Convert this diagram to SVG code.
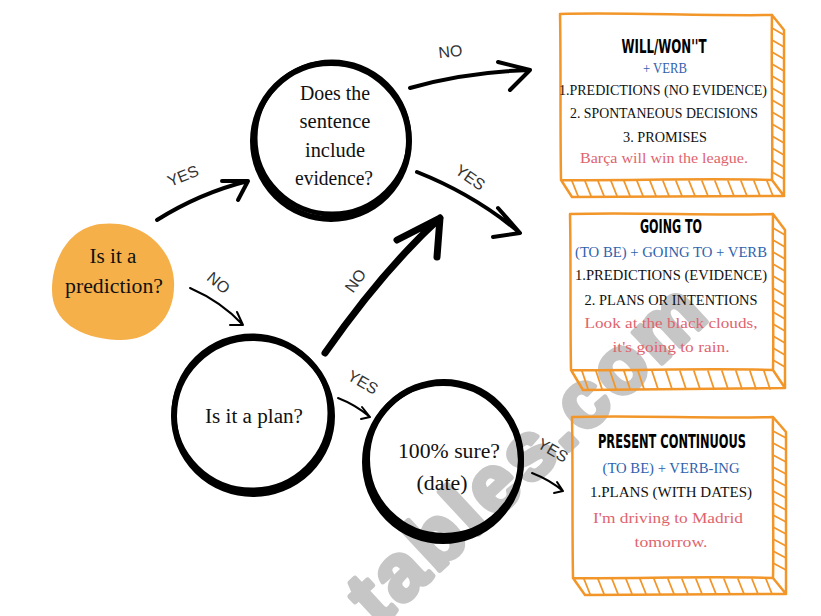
<svg xmlns="http://www.w3.org/2000/svg" width="821" height="616" viewBox="0 0 821 616">
<style>
.ring{fill:none;stroke:#000;stroke-linecap:round}
.q{font-family:"Liberation Serif",serif;font-size:20px;fill:#111;text-anchor:middle}
.ttl{font-family:"DejaVu Sans Condensed","DejaVu Sans",sans-serif;font-weight:bold;font-size:20px;fill:#000;text-anchor:middle}
.bt{font-family:"Liberation Serif",serif;font-size:15px;fill:#111;text-anchor:middle}
.blue{fill:#2f62ad}
.red{fill:#e0646e}
.lbl{font-family:"Liberation Sans",sans-serif;font-size:16px;fill:#333;text-anchor:middle}
.box{fill:none;stroke:#f2962a;stroke-width:2.5;stroke-linejoin:round;stroke-linecap:round}
.hatch{fill:none;stroke:#f2962a;stroke-width:1.8;stroke-linecap:round}
.arr{fill:none;stroke:#000;stroke-linecap:round;stroke-linejoin:round}
.wm{font-family:"Liberation Sans",sans-serif;font-weight:bold;font-size:80px;letter-spacing:4px;fill:#c6c6c6;stroke:#c6c6c6;stroke-width:5;stroke-linejoin:round}
</style>
<rect width="821" height="616" fill="#fff"/>

<text class="wm" transform="translate(378,628) rotate(-43)">tables.com</text>

<g id="node-prediction">
<path d="M100,224 C140,219 172,246 174,281 C176,319 150,342 117,340 C79,338 52,321 52,290 C52,258 70,228 100,224 Z" fill="#f6b04a"/>
<text class="q" x="113" y="263" textLength="47" lengthAdjust="spacingAndGlyphs">Is it a</text>
<text class="q" x="114" y="293" textLength="98" lengthAdjust="spacingAndGlyphs">prediction?</text>
</g>

<g id="node-evidence">
<ellipse class="ring" cx="331" cy="141" rx="78" ry="78" stroke-width="6"/>
<ellipse class="ring" cx="332" cy="138" rx="77" ry="76" stroke-width="5"/>
<text class="q" x="335" y="100" textLength="70" lengthAdjust="spacingAndGlyphs">Does the</text>
<text class="q" x="335" y="128" textLength="71" lengthAdjust="spacingAndGlyphs">sentence</text>
<text class="q" x="335" y="157" textLength="60" lengthAdjust="spacingAndGlyphs">include</text>
<text class="q" x="334" y="185" textLength="78" lengthAdjust="spacingAndGlyphs">evidence?</text>
</g>

<g id="node-plan">
<ellipse class="ring" cx="253" cy="416" rx="79" ry="78" stroke-width="6"/>
<ellipse class="ring" cx="252" cy="413" rx="78" ry="77" stroke-width="5"/>
<text class="q" x="254" y="423" textLength="98" lengthAdjust="spacingAndGlyphs">Is it a plan?</text>
</g>

<g id="node-sure">
<ellipse class="ring" cx="443" cy="462" rx="78" ry="79" stroke-width="6"/>
<ellipse class="ring" cx="444" cy="459" rx="77" ry="77" stroke-width="6"/>
<text class="q" x="449" y="458" textLength="102" lengthAdjust="spacingAndGlyphs">100% sure?</text>
<text class="q" x="442" y="490" textLength="51" lengthAdjust="spacingAndGlyphs">(date)</text>
</g>

<g id="node-will">
<path class="box" d="M560,14 C620,12 700,16 772,15 C771,70 773,130 772,180 C700,178 620,181 561,180 C560,120 561,60 560,14 Z M772,15 L784,30 L784,196 L572,197 L561,180 M772,180 L784,196"/>
<g class="hatch">
<path d="M772,28 L784,35 M772,40 L784,47 M772,52 L784,59 M772,64 L784,71 M772,76 L784,83 M772,88 L784,95 M772,100 L784,107 M772,112 L784,119 M772,124 L784,131 M772,136 L784,143 M772,148 L784,155 M772,160 L784,167 M772,172 L784,179"/>
<path d="M572,181 L578,196 M585,181 L591,196 M598,181 L604,196 M611,181 L617,196 M624,181 L630,196 M637,181 L643,196 M650,181 L656,196 M663,181 L669,196 M676,181 L682,196 M689,181 L695,196 M702,181 L708,196 M715,181 L721,196 M728,181 L734,196 M741,181 L747,196 M754,181 L760,196 M767,181 L773,196"/>
</g>
<text class="ttl" x="664" y="53" textLength="85" lengthAdjust="spacingAndGlyphs">WILL/WON''T</text>
<text class="bt blue" x="665" y="73" textLength="44" lengthAdjust="spacingAndGlyphs">+ VERB</text>
<text class="bt" x="663" y="95" textLength="208" lengthAdjust="spacingAndGlyphs">1.PREDICTIONS (NO EVIDENCE)</text>
<text class="bt" x="664" y="118" textLength="188" lengthAdjust="spacingAndGlyphs">2. SPONTANEOUS DECISIONS</text>
<text class="bt" x="665" y="142" textLength="84" lengthAdjust="spacingAndGlyphs">3. PROMISES</text>
<text class="bt red" x="664" y="163" textLength="168" lengthAdjust="spacingAndGlyphs">Barça will win the league.</text>
</g>

<g id="node-going">
<path class="box" d="M570,214 C640,212 710,216 773,214 C772,270 774,320 773,370 C700,368 630,371 571,370 C570,320 571,260 570,214 Z M773,214 L785,230 L785,388 L583,390 L571,370 M773,370 L785,388"/>
<g class="hatch">
<path d="M773,228 L785,235 M773,240 L785,247 M773,252 L785,259 M773,264 L785,271 M773,276 L785,283 M773,288 L785,295 M773,300 L785,307 M773,312 L785,319 M773,324 L785,331 M773,336 L785,343 M773,348 L785,355 M773,360 L785,367"/>
<path d="M582,371 L588,389 M596,371 L602,389 M610,371 L616,389 M624,371 L630,389 M638,371 L644,389 M652,371 L658,389 M666,371 L672,389 M680,371 L686,389 M694,371 L700,389 M708,371 L714,389 M722,371 L728,389 M736,371 L742,389 M750,371 L756,389 M764,371 L770,389"/>
</g>
<text class="ttl" x="671" y="233" textLength="62" lengthAdjust="spacingAndGlyphs">GOING TO</text>
<text class="bt blue" x="671" y="257" textLength="192" lengthAdjust="spacingAndGlyphs">(TO BE) + GOING TO + VERB</text>
<text class="bt" x="671" y="280" textLength="192" lengthAdjust="spacingAndGlyphs">1.PREDICTIONS (EVIDENCE)</text>
<text class="bt" x="671" y="305" textLength="173" lengthAdjust="spacingAndGlyphs">2. PLANS OR INTENTIONS</text>
<text class="bt red" x="671" y="328" textLength="173" lengthAdjust="spacingAndGlyphs">Look at the black clouds,</text>
<text class="bt red" x="671" y="352" textLength="117" lengthAdjust="spacingAndGlyphs">it's going to rain.</text>
</g>

<g id="node-present">
<path class="box" d="M572,417 C640,415 710,419 773,417 C772,470 774,530 773,578 C700,576 630,579 573,578 C572,520 573,470 572,417 Z M773,417 L786,432 L786,594 L585,595 L573,578 M773,578 L786,594"/>
<g class="hatch">
<path d="M773,431 L786,438 M773,443 L786,450 M773,455 L786,462 M773,467 L786,474 M773,479 L786,486 M773,491 L786,498 M773,503 L786,510 M773,515 L786,522 M773,527 L786,534 M773,539 L786,546 M773,551 L786,558 M773,563 L786,570"/>
<path d="M584,579 L590,594 M598,579 L604,594 M612,579 L618,594 M626,579 L632,594 M640,579 L646,594 M654,579 L660,594 M668,579 L674,594 M682,579 L688,594 M696,579 L702,594 M710,579 L716,594 M724,579 L730,594 M738,579 L744,594 M752,579 L758,594 M766,579 L772,594"/>
</g>
<text class="ttl" x="672" y="448" textLength="148" lengthAdjust="spacingAndGlyphs">PRESENT CONTINUOUS</text>
<text class="bt blue" x="671" y="473" textLength="137" lengthAdjust="spacingAndGlyphs">(TO BE) + VERB-ING</text>
<text class="bt" x="671" y="497" textLength="162" lengthAdjust="spacingAndGlyphs">1.PLANS (WITH DATES)</text>
<text class="bt red" x="668" y="523" textLength="150" lengthAdjust="spacingAndGlyphs">I'm driving to Madrid</text>
<text class="bt red" x="671" y="547" textLength="73" lengthAdjust="spacingAndGlyphs">tomorrow.</text>
</g>

<g id="connectors">
<path class="arr" stroke-width="4" d="M157,220 Q200,193 248,181 M222,181 L248,181 L238,200"/>
<text class="lbl" transform="translate(185,181) rotate(-22)" font-size="18">YES</text>

<path class="arr" stroke-width="2" d="M190,288 Q222,302 243,325 M230,325 L243,325 L237,312"/>
<text class="lbl" transform="translate(215,287) rotate(40)" font-size="14">NO</text>

<path class="arr" stroke-width="4" d="M410,88 Q465,72 530,70 M498,62 L530,70 L510,90"/>
<text class="lbl" transform="translate(451,57) rotate(-6)">NO</text>

<path class="arr" stroke-width="4" d="M417,172 Q475,195 520,233 M498,208 L520,233 L493,237"/>
<text class="lbl" transform="translate(467,182) rotate(35)">YES</text>

<path class="arr" stroke-width="7" d="M325,353 Q383,270 440,218 M397,240 L440,218 L437,257"/>
<text class="lbl" transform="translate(360,284) rotate(-55)" font-size="15">NO</text>

<path class="arr" stroke-width="2" d="M338,398 Q356,405 370,417 M362,407 L370,417 L361,419"/>
<text class="lbl" transform="translate(360,387) rotate(30)" font-size="15">YES</text>

<path class="arr" stroke-width="2" d="M532,473 Q550,480 563,491 M557,482 L563,491 L554,493"/>
<text class="lbl" transform="translate(550,455) rotate(30)" font-size="15">YES</text>
</g>
</svg>
